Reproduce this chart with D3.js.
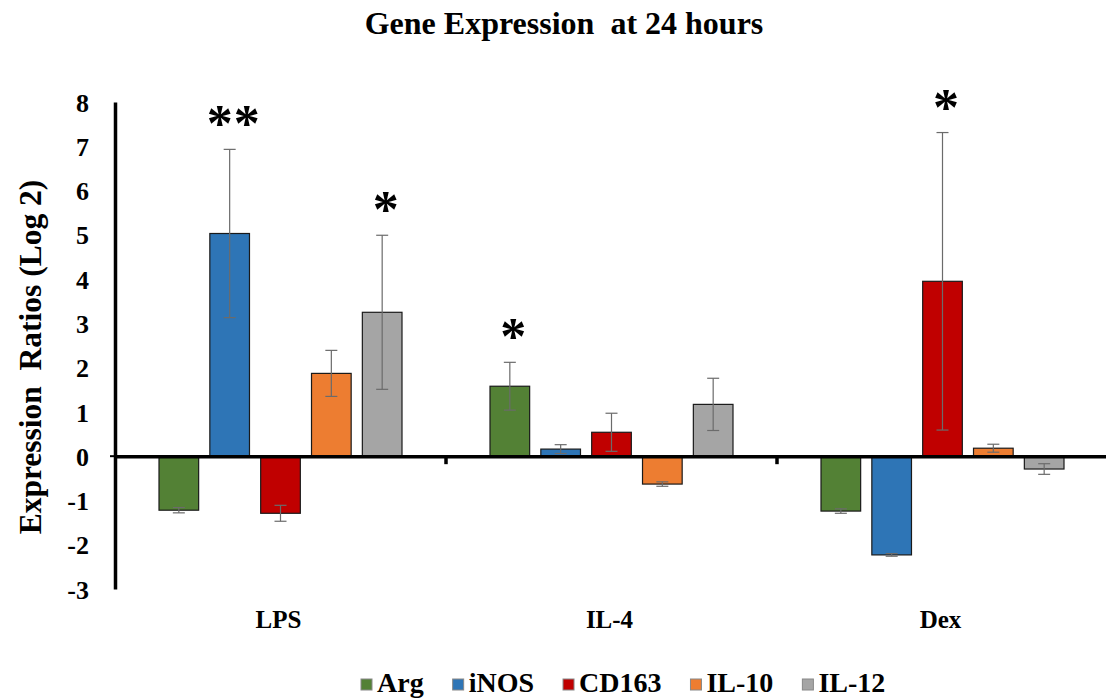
<!DOCTYPE html>
<html>
<head>
<meta charset="utf-8">
<script src="https://cdn.jsdelivr.net/npm/d3@7"></script>
<style>
  html, body { margin: 0; padding: 0; background: #fff; }
  svg { display: block; }
  text { font-family: "Liberation Serif", "Times New Roman", serif; font-weight: bold; fill: #000; }
</style>
</head>
<body>
<svg id="chart" width="1106" height="700"></svg>
<script>
// ---- data ----
const categories = ["LPS", "IL-4", "Dex"];
const series = ["Arg", "iNOS", "CD163", "IL-10", "IL-12"];
const colors = ["#538135", "#2E75B6", "#C00000", "#ED7D31", "#A5A5A5"];
// mean values per series, in category order
const argValues   = [-1.22, 1.58, -1.24];
const inosValues  = [5.03, 0.16, -2.23];
const cd163Values = [-1.29, 0.54, 3.95];
const il10Values  = [1.87, -0.63, 0.18];
const il12Values  = [3.25, 1.17, -0.29];
// error (±) per series, in category order
const argErrors   = [0.06, 0.54, 0.05];
const inosErrors  = [1.9, 0.1, 0.03];
const cd163Errors = [0.18, 0.43, 3.36];
const il10Errors  = [0.52, 0.05, 0.09];
const il12Errors  = [1.74, 0.59, 0.12];
// significance marks: [category, series, label]
const significance = [["LPS", "iNOS", "**"], ["LPS", "IL-12", "*"], ["IL-4", "Arg", "*"], ["Dex", "CD163", "*"]];
const yTicks = [-3, -2, -1, 0, 1, 2, 3, 4, 5, 6, 7, 8];
const titleText = "Gene Expression  at 24 hours";
const yLabelText = "Expression  Ratios (Log 2)";

const valueTable = [argValues, inosValues, cd163Values, il10Values, il12Values];
const errorTable = [argErrors, inosErrors, cd163Errors, il10Errors, il12Errors];

const svg = d3.select("#chart");

const plotLeft = 115, plotRight = 1108, plotTop = 102, plotBottom = 589;

const y = d3.scaleLinear().domain([-3, 8]).range([plotBottom, plotTop]);
const x0 = d3.scaleBand().domain(categories).range([plotLeft, plotRight]).padding(0);
const x1 = d3.scaleBand().domain(series).range([44, x0.bandwidth() - 44]).paddingInner(0.22).paddingOuter(0);

// flattened rows
const rows = [];
series.forEach((s, si) => {
  categories.forEach((c, ci) => {
    rows.push({ s, c, color: colors[si], v: valueTable[si][ci], e: errorTable[si][ci] });
  });
});

// title
svg.append("text")
  .attr("x", 564).attr("y", 34)
  .attr("text-anchor", "middle")
  .attr("font-size", 32)
  .style("white-space", "pre")
  .text(titleText);

// y label
svg.append("text")
  .attr("transform", `translate(41, 357) rotate(-90)`)
  .attr("text-anchor", "middle")
  .attr("font-size", 31.5)
  .style("white-space", "pre")
  .text(yLabelText);

// bars
const g = svg.append("g");
g.selectAll("rect.bar").data(rows).join("rect")
  .attr("class", "bar")
  .attr("x", d => x0(d.c) + x1(d.s))
  .attr("width", x1.bandwidth())
  .attr("y", d => y(Math.max(0, d.v)))
  .attr("height", d => Math.abs(y(d.v) - y(0)))
  .attr("fill", d => d.color)
  .attr("stroke", "#1a1a1a")
  .attr("stroke-width", 1.2);

// error bars
const capHalf = 6;
const eb = g.selectAll("g.err").data(rows).join("g").attr("class", "err")
  .attr("stroke", "#6b6b6b").attr("stroke-width", 1.2);
eb.append("line")
  .attr("x1", d => x0(d.c) + x1(d.s) + x1.bandwidth() / 2)
  .attr("x2", d => x0(d.c) + x1(d.s) + x1.bandwidth() / 2)
  .attr("y1", d => y(d.v - d.e))
  .attr("y2", d => y(d.v + d.e));
eb.append("line")
  .attr("x1", d => x0(d.c) + x1(d.s) + x1.bandwidth() / 2 - capHalf)
  .attr("x2", d => x0(d.c) + x1(d.s) + x1.bandwidth() / 2 + capHalf)
  .attr("y1", d => y(d.v + d.e))
  .attr("y2", d => y(d.v + d.e));
eb.append("line")
  .attr("x1", d => x0(d.c) + x1(d.s) + x1.bandwidth() / 2 - capHalf)
  .attr("x2", d => x0(d.c) + x1(d.s) + x1.bandwidth() / 2 + capHalf)
  .attr("y1", d => y(d.v - d.e))
  .attr("y2", d => y(d.v - d.e));

// y axis
const yAxis = d3.axisLeft(y).tickValues(yTicks).tickSize(0).tickPadding(26).tickFormat(d => String(d));
const ya = svg.append("g").attr("transform", `translate(${plotLeft},0)`).call(yAxis);
ya.select(".domain").attr("stroke", "#000").attr("stroke-width", 3.5);
ya.selectAll("text").attr("font-size", 26).attr("font-family", "Liberation Serif, serif").attr("font-weight", "bold").attr("dy", "0.35em");

// x axis at zero
const xAxis = d3.axisBottom(x0).tickSize(0).tickFormat("");
const xa = svg.append("g").attr("transform", `translate(0,${y(0)})`).call(xAxis);
xa.select(".domain").attr("stroke", "#000").attr("stroke-width", 3.5);
// category boundary ticks
const boundaries = categories.slice(1).map(c => x0(c));
xa.selectAll("line.bound").data(boundaries).join("line")
  .attr("class", "bound")
  .attr("x1", d => d).attr("x2", d => d)
  .attr("y1", 0).attr("y2", 8)
  .attr("stroke", "#000").attr("stroke-width", 3.5);
svg.append("line")
  .attr("x1", plotLeft - 5).attr("x2", plotLeft).attr("y1", y(0)).attr("y2", y(0))
  .attr("stroke", "#000").attr("stroke-width", 2);

// category labels
svg.selectAll("text.cat").data(categories).join("text")
  .attr("class", "cat")
  .attr("x", d => x0(d) + x0.bandwidth() / 2 - 2)
  .attr("y", 628)
  .attr("text-anchor", "middle")
  .attr("font-size", 25)
  .text(d => d);

// significance asterisks
svg.selectAll("text.sig").data(significance).join("text")
  .attr("class", "sig")
  .attr("x", d => x0(d[0]) + x1(d[1]) + x1.bandwidth() / 2 + 4)
  .attr("y", d => {
    const si = series.indexOf(d[1]), ci = categories.indexOf(d[0]);
    return y(valueTable[si][ci] + errorTable[si][ci]) - 8;
  })
  .attr("text-anchor", "middle")
  .attr("font-size", 52)
  .attr("letter-spacing", 1)
  .text(d => d[2]);

// legend
const legend = svg.append("g");
const legendY = 692;
const items = legend.selectAll("g.li").data(series).join("g").attr("class", "li");
items.append("rect")
  .attr("width", 11).attr("height", 11).attr("y", -13)
  .attr("fill", (d, i) => colors[i])
  .attr("stroke", "#888").attr("stroke-width", 1);
items.append("text")
  .attr("x", 16).attr("y", 0)
  .attr("font-size", 28)
  .text(d => d);
let cx = 0;
const gap = 29;
items.each(function () {
  const w = this.getBBox().width;
  d3.select(this).attr("transform", `translate(${cx},0)`);
  cx += w + gap;
});
legend.attr("transform", `translate(${361},${legendY})`);
</script>
</body>
</html>
